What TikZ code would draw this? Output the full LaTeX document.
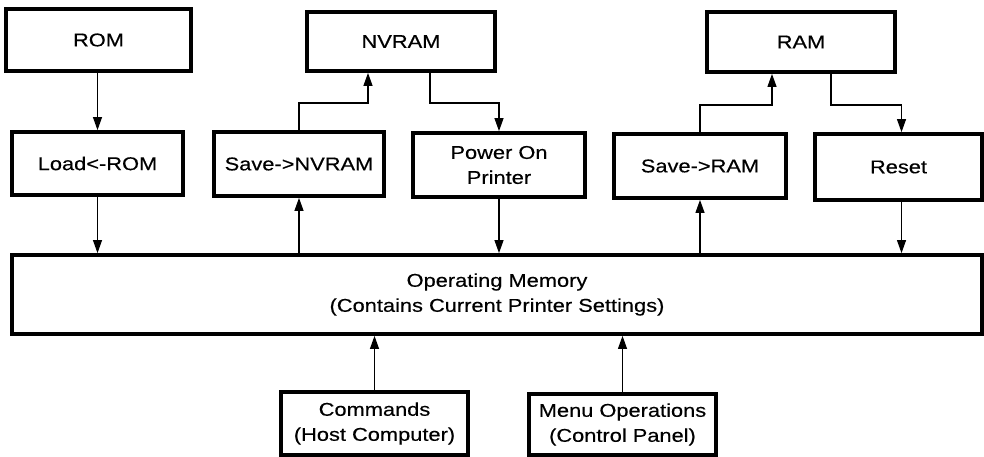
\documentclass[tikz,border=0pt]{standalone}
\usepackage{fontspec}
\setmainfont{Liberation Sans}[FakeStretch=1.18,FakeBold=0.4]
\usetikzlibrary{arrows.meta,calc}
\tikzset{
  box/.style={draw, line width=3.8pt, rectangle, inner sep=0pt, align=center,
    font=\fontsize{18.5}{25}\selectfont},
  arr/.style={line width=1.1pt, -{Triangle[length=13pt,width=9pt]}},
  link/.style={line width=1.1pt}
}
\begin{document}
\begin{tikzpicture}[x=1pt,y=-1pt]
\useasboundingbox (0,0) rectangle (984,457);
% top row
\node[box, minimum width=185, minimum height=62] (ROM) at (98.5,40) {ROM};
\node[box, minimum width=188, minimum height=59] (NVRAM) at (401,41.5) {NVRAM};
\node[box, minimum width=188, minimum height=60] (RAM) at (801,42) {RAM};
% middle row
\node[box, minimum width=171, minimum height=63] (Load) at (97.5,163.5) {Load<-ROM};
\node[box, minimum width=170, minimum height=64] (SaveNV) at (299,164) {Save->NVRAM};
\node[box, minimum width=172, minimum height=64] (Power) at (499,165) {Power On\\Printer};
\node[box, minimum width=172, minimum height=64] (SaveRAM) at (700,166) {Save->RAM};
\node[box, minimum width=167, minimum height=66] (Reset) at (898.5,167) {Reset};
% operating memory
\node[box, minimum width=970, minimum height=79] (Op) at (497,294.5) {Operating Memory\\(Contains Current Printer Settings)};
% bottom row
\node[box, minimum width=187, minimum height=63] (Cmd) at (374.5,423.5) {Commands\\(Host Computer)};
\node[box, minimum width=187, minimum height=61] (Menu) at (622.5,424.5) {Menu Operations\\(Control Panel)};
% connectors
\draw[arr] ([xshift=-1]ROM.south) -- ([xshift=-1]ROM.south |- Load.north);
\draw[arr] (Load.south) -- (Load.south |- Op.north);
\draw[arr] (SaveNV.south |- Op.north) -- (SaveNV.south);
\draw[arr] (SaveNV.north) -- (SaveNV.north |- 0,103) -| ([xshift=-33]NVRAM.south);
\draw[arr] ([xshift=29]NVRAM.south) -- ([xshift=29]NVRAM.south |- 0,103) -| (Power.north);
\draw[arr] (Power.south) -- (Power.south |- Op.north);
\draw[arr] (SaveRAM.south |- Op.north) -- (SaveRAM.south);
\draw[arr] (SaveRAM.north) -- (SaveRAM.north |- 0,105) -| ([xshift=-29]RAM.south);
\draw[arr] ([xshift=30]RAM.south) -- ([xshift=30]RAM.south |- 0,105) -| ([xshift=3]Reset.north);
\draw[arr] ([xshift=3]Reset.south) -- ([xshift=3]Reset.south |- Op.north);
\draw[arr] (Cmd.north) -- (Cmd.north |- Op.south);
\draw[arr] (Menu.north) -- (Menu.north |- Op.south);
\end{tikzpicture}
\end{document}
